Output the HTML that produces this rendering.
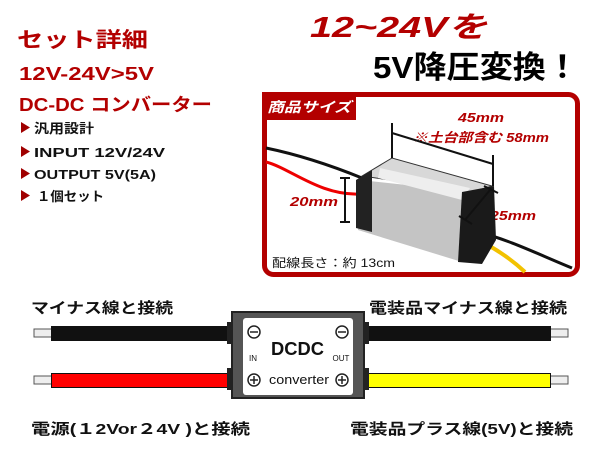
<!DOCTYPE html>
<html><head><meta charset="utf-8"><style>
html,body{margin:0;padding:0;background:#fff}
svg{display:block}
text{font-family:"Liberation Sans","Noto Sans CJK JP",sans-serif}
</style></head><body>
<svg width="600" height="450" viewBox="0 0 600 450" xmlns="http://www.w3.org/2000/svg">
<!-- Left spec text -->
<text x="17" y="47" font-size="21" font-weight="bold" fill="#b30000" textLength="131" lengthAdjust="spacingAndGlyphs">セット詳細</text>
<text x="19" y="80" font-size="18" font-weight="bold" fill="#b30000" textLength="135" lengthAdjust="spacingAndGlyphs">12V-24V&gt;5V</text>
<text x="19" y="111" font-size="18" font-weight="bold" fill="#b30000" textLength="193" lengthAdjust="spacingAndGlyphs">DC-DC コンバーター</text>
<g font-size="13" font-weight="bold" fill="#111">
<polygon points="21,122 21,133 30,127.5" fill="#a00000"/>
<text x="34" y="133" textLength="60" lengthAdjust="spacingAndGlyphs">汎用設計</text>
<polygon points="21,146 21,157 30,151.5" fill="#a00000"/>
<text x="34" y="157" textLength="131" lengthAdjust="spacingAndGlyphs">INPUT 12V/24V</text>
<polygon points="21,168 21,179 30,173.5" fill="#a00000"/>
<text x="34" y="179" textLength="122" lengthAdjust="spacingAndGlyphs">OUTPUT 5V(5A)</text>
<polygon points="21,190 21,201 30,195.5" fill="#a00000"/>
<text x="37" y="201" textLength="67" lengthAdjust="spacingAndGlyphs">１個セット</text>
</g>
<!-- Title -->
<text x="310" y="37" font-size="29" font-weight="bold" font-style="italic" fill="#b30000" textLength="177" lengthAdjust="spacingAndGlyphs">12~24Vを</text>
<text x="373" y="78" font-size="31" font-weight="bold" fill="#000" textLength="206" lengthAdjust="spacingAndGlyphs">5V降圧変換！</text>

<!-- Size box -->
<rect x="264.5" y="94.5" width="313" height="180" rx="9" fill="#fff" stroke="#b30000" stroke-width="5"/>
<rect x="262" y="92" width="94" height="28" fill="#b30000"/>
<text x="267" y="112" font-size="14" font-weight="bold" font-style="italic" fill="#fff" textLength="84" lengthAdjust="spacingAndGlyphs">商品サイズ</text>
<text x="458" y="122" font-size="13" font-weight="bold" font-style="italic" fill="#b30000" textLength="46" lengthAdjust="spacingAndGlyphs">45mm</text>
<text x="413" y="142" font-size="13" font-weight="bold" font-style="italic" fill="#b30000" textLength="136" lengthAdjust="spacingAndGlyphs">※土台部含む 58mm</text>
<text x="290" y="206" font-size="13" font-weight="bold" font-style="italic" fill="#b30000" textLength="48" lengthAdjust="spacingAndGlyphs">20mm</text>
<text x="490" y="220" font-size="13" font-weight="bold" font-style="italic" fill="#b30000" textLength="46" lengthAdjust="spacingAndGlyphs">25mm</text>
<text x="272" y="267" font-size="12" fill="#111" textLength="123" lengthAdjust="spacingAndGlyphs">配線長さ：約 13cm</text>

<!-- wires left -->
<path d="M266,148 C300,155 330,165 362,178" stroke="#111" stroke-width="3" fill="none"/>
<path d="M266,162 C290,168 320,196 360,194" stroke="#e00" stroke-width="3" fill="none"/>
<!-- right wires -->
<path d="M478,232 C510,240 540,255 572,268" stroke="#111" stroke-width="3" fill="none"/>
<path d="M470,236 C490,245 510,258 525,272" stroke="#f2c200" stroke-width="4" fill="none"/>
<!-- device -->
<polygon points="362,176 392,158 492,186 472,192" fill="#d8d8d8" stroke="#333"/>
<polygon points="360,180 472,192 462,262 358,230" fill="#c4c4c4"/>
<polygon points="380,168 470,188 462,200 378,178" fill="#eee"/>
<polygon points="356,180 372,170 372,232 356,228" fill="#222"/>
<polygon points="462,192 494,186 496,240 482,264 458,262" fill="#1a1a1a"/>
<!-- dimension lines -->
<g stroke="#111" stroke-width="2" fill="none">
<line x1="392" y1="123" x2="392" y2="158"/>
<line x1="493" y1="155" x2="493" y2="186"/>
<line x1="392" y1="133" x2="493" y2="164"/>
<line x1="345" y1="178" x2="345" y2="222"/>
<line x1="340" y1="178" x2="350" y2="178"/>
<line x1="340" y1="222" x2="350" y2="222"/>
<line x1="490" y1="190" x2="465" y2="220"/>
<line x1="484" y1="186" x2="498" y2="193"/>
<line x1="459" y1="216" x2="472" y2="224"/>
</g>

<!-- Bottom diagram -->
<g font-size="15" font-weight="bold" fill="#111">
<text x="31" y="313" textLength="142" lengthAdjust="spacingAndGlyphs">マイナス線と接続</text>
<text x="369" y="313" textLength="198" lengthAdjust="spacingAndGlyphs">電装品マイナス線と接続</text>
<text x="31" y="434" textLength="219" lengthAdjust="spacingAndGlyphs">電源(１2Vor２4V )と接続</text>
<text x="350" y="434" textLength="223" lengthAdjust="spacingAndGlyphs">電装品プラス線(5V)と接続</text>
</g>
<rect x="34" y="329" width="18" height="8" fill="#eee" stroke="#555"/>
<rect x="51" y="326" width="180" height="15" fill="#111"/>
<rect x="34" y="376" width="18" height="8" fill="#eee" stroke="#555"/>
<rect x="51.5" y="373.5" width="179" height="14" fill="#f00" stroke="#111"/>
<rect x="550" y="329" width="18" height="8" fill="#eee" stroke="#555"/>
<rect x="364" y="326" width="187" height="15" fill="#111"/>
<rect x="550" y="376" width="18" height="8" fill="#eee" stroke="#555"/>
<rect x="364.5" y="373.5" width="186" height="14" fill="#ff0" stroke="#111"/>
<rect x="227" y="322" width="8" height="22" fill="#222"/>
<rect x="227" y="368" width="8" height="22" fill="#222"/>
<rect x="361" y="322" width="8" height="22" fill="#222"/>
<rect x="361" y="368" width="8" height="22" fill="#222"/>
<rect x="232" y="312" width="132" height="86" fill="#555" stroke="#222" stroke-width="2"/>
<rect x="243" y="318" width="110" height="77" rx="3" fill="#fff"/>
<g stroke="#222" stroke-width="1.5" fill="none">
<circle cx="254" cy="332" r="6"/><line x1="250" y1="332" x2="258" y2="332"/>
<circle cx="342" cy="332" r="6"/><line x1="338" y1="332" x2="346" y2="332"/>
<circle cx="254" cy="380" r="6"/><line x1="250" y1="380" x2="258" y2="380"/><line x1="254" y1="376" x2="254" y2="384"/>
<circle cx="342" cy="380" r="6"/><line x1="338" y1="380" x2="346" y2="380"/><line x1="342" y1="376" x2="342" y2="384"/>
</g>
<text x="271" y="355" font-size="18" font-weight="bold" fill="#111" textLength="53" lengthAdjust="spacingAndGlyphs">DCDC</text>
<text x="269" y="384" font-size="13" fill="#111" textLength="60" lengthAdjust="spacingAndGlyphs">converter</text>
<text x="253" y="361" font-size="8" fill="#111" text-anchor="middle">IN</text>
<text x="341" y="361" font-size="8" fill="#111" text-anchor="middle">OUT</text>
</svg>
</body></html>
